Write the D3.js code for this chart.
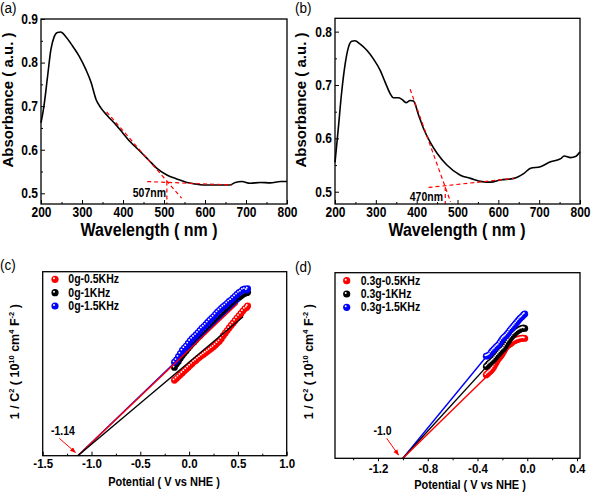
<!DOCTYPE html>
<html><head><meta charset="utf-8">
<script src="https://cdn.jsdelivr.net/npm/d3@7/dist/d3.min.js"></script>
<style>body{margin:0;background:#fff} svg{display:block} text{font-family:"Liberation Sans",Arial,sans-serif}</style>
</head><body>
<svg id="chart" width="591" height="492"></svg>
<script>
// ---------------- DATA ----------------
// (a) UV-vis absorbance, 0g
const waveA = [200,207,216,224,232,240,248,260,277,293,309,322,334,346,362,383,392,417,442,462,482,507,531,556,572,596,629,661,674,690,710,735,759,784,800];
const absA  = [0.662,0.699,0.768,0.829,0.859,0.869,0.870,0.860,0.838,0.815,0.785,0.755,0.716,0.696,0.678,0.657,0.647,0.619,0.596,0.577,0.558,0.542,0.533,0.525,0.522,0.519,0.519,0.519,0.525,0.527,0.523,0.525,0.524,0.527,0.527];
const tangentA = [[360,0.687],[543,0.489]];
const baseA = [[459,0.527],[666,0.519]];
const edgeA = 507;
// (b) UV-vis absorbance, 0.3g
const waveB = [200,208,216,225,233,241,249,261,278,294,311,323,335,343,355,364,374,384,392,405,417,433,450,474,507,532,560,581,605,638,662,679,703,728,753,761,777,789,800];
const absB  = [0.555,0.618,0.684,0.740,0.771,0.782,0.783,0.777,0.765,0.749,0.727,0.705,0.684,0.676,0.676,0.673,0.667,0.671,0.670,0.643,0.618,0.593,0.572,0.550,0.531,0.525,0.519,0.518,0.522,0.525,0.534,0.544,0.547,0.556,0.562,0.567,0.564,0.566,0.575];
const tangentB = [[384,0.692],[483,0.481]];
const baseB = [[429,0.508],[638,0.525]];
const edgeB = 470;
const xTicksAB = [200,300,400,500,600,700,800];
const xMinorAB = [250,350,450,550,650,750];
const yTicksA = [0.5,0.6,0.7,0.8,0.9];
const yMinorA = [0.55,0.65,0.75,0.85];
const yTicksB = [0.5,0.6,0.7,0.8];
const yMinorB = [0.55,0.65,0.75];

// (c) Mott-Schottky, 0g
const labelsC = ["0g-0.5KHz","0g-1KHz","0g-1.5KHz"];
const potC = [-0.15,-0.13,-0.11,-0.09,-0.07,-0.05,-0.03,-0.01,0.01,0.03,0.05,0.07,0.09,0.11,0.13,0.15,0.17,0.19,0.21,0.23,0.25,0.27,0.29,0.31,0.33,0.35,0.37,0.39,0.41,0.43,0.45,0.47,0.49,0.51,0.53,0.55,0.57,0.59,0.60];
const c05 = [4.10,4.20,4.30,4.40,4.50,4.60,4.70,4.80,4.90,5.00,5.10,5.18,5.28,5.36,5.44,5.52,5.60,5.68,5.76,5.84,5.92,6.02,6.12,6.22,6.36,6.52,6.66,6.80,6.94,7.08,7.20,7.34,7.48,7.60,7.72,7.86,7.98,8.06,8.14];
const c10 = [4.80,4.98,5.12,5.30,5.44,5.58,5.70,5.84,5.96,6.08,6.18,6.30,6.42,6.52,6.64,6.74,6.84,6.96,7.06,7.18,7.28,7.40,7.50,7.62,7.72,7.82,7.92,8.02,8.12,8.22,8.32,8.42,8.52,8.60,8.68,8.76,8.82,8.86,8.88];
const c15 = [5.08,5.20,5.38,5.55,5.72,5.85,5.96,6.10,6.24,6.36,6.46,6.56,6.68,6.80,6.92,7.02,7.12,7.24,7.36,7.46,7.56,7.68,7.80,7.90,8.00,8.10,8.18,8.28,8.38,8.46,8.56,8.66,8.76,8.86,8.92,9.02,9.06,9.00,9.08];
const interceptC = -1.14;
const fitEndC = [[0.519,8.46],[0.501,8.28],[0.553,7.55]]; // blue, red, black fit line ends
const xTicksC = [-1.5,-1.0,-0.5,0.0,0.5,1.0];
const xMinorC = [-1.25,-0.75,-0.25,0.25,0.75];

// (d) Mott-Schottky, 0.3g
const labelsD = ["0.3g-0.5KHz","0.3g-1KHz","0.3g-1.5KHz"];
const potD = [-0.33,-0.32,-0.31,-0.30,-0.29,-0.28,-0.27,-0.26,-0.25,-0.24,-0.23,-0.22,-0.21,-0.20,-0.19,-0.18,-0.17,-0.16,-0.15,-0.14,-0.13,-0.12,-0.11,-0.10,-0.09,-0.08,-0.07,-0.06,-0.05,-0.04,-0.03,-0.02];
const d05 = [4.49,4.56,4.62,4.68,4.74,4.82,4.92,5.04,5.16,5.28,5.38,5.46,5.54,5.64,5.76,5.88,5.98,6.06,6.12,6.16,6.20,6.26,6.30,6.34,6.38,6.40,6.42,6.44,6.46,6.47,6.48,6.46];
const d10 = [4.94,5.00,5.08,5.14,5.20,5.26,5.32,5.40,5.48,5.56,5.64,5.72,5.80,5.86,5.92,6.02,6.12,6.24,6.34,6.44,6.52,6.60,6.68,6.74,6.80,6.86,6.90,6.94,6.98,7.00,7.02,7.00];
const d15 = [5.50,5.52,5.55,5.60,5.70,5.78,5.86,5.92,6.00,6.06,6.12,6.22,6.32,6.42,6.50,6.56,6.62,6.70,6.78,6.88,6.96,7.04,7.12,7.20,7.28,7.36,7.44,7.52,7.58,7.64,7.72,7.78];
const interceptD = -1.0;
const fitEndD = [[-0.34,5.39],[-0.327,4.94],[-0.314,4.49]]; // blue, black, red
const xTicksD = [-1.2,-0.8,-0.4,0.0,0.4];
const xMinorD = [-1.4,-1.0,-0.6,-0.2,0.2];

// ---------------- DRAW ----------------
const K = 1.15; // vertical text stretch of the reference image
const svg = d3.select('#chart');
const defs = svg.append('defs');
defs.append('marker').attr('id','arr').attr('viewBox','0 0 10 10').attr('refX',9).attr('refY',5)
  .attr('markerWidth',6).attr('markerHeight',6).attr('orient','auto')
  .append('path').attr('d','M0,1 L10,5 L0,9 Z').attr('fill','#f00');

function styleAxis(g, size, k){
  g.select('.domain').remove();
  g.selectAll('.tick line').attr('stroke','#000').attr('stroke-width',1);
  g.selectAll('.tick text').attr('fill','#000').attr('font-size',size).attr('font-weight','bold')
    .attr('font-family','"Liberation Sans", Arial, sans-serif').attr('transform',`scale(1,${k||K})`);
}
function frame(x0,y0,x1,y1){
  svg.append('rect').attr('x',x0).attr('y',y0).attr('width',x1-x0).attr('height',y1-y0)
    .attr('fill','none').attr('stroke','#000').attr('stroke-width',1.3);
}
function text(x,y,s,opt={}){
  const t = svg.append('text').attr('x',0).attr('y',0).text(s)
    .attr('font-size',opt.size||12).attr('font-weight',opt.weight||'bold')
    .attr('text-anchor',opt.anchor||'middle').attr('fill',opt.fill||'#000');
  if(opt.rot) t.attr('transform',`translate(${x},${y}) rotate(-90)`);
  else t.attr('transform',`translate(${x},${y}) scale(1,${opt.k||K})`);
  return t;
}
function balls(x,y,xs,ys,color){
  const g = svg.append('g');
  const pts = xs.map((v,i)=>[v,ys[i]]);
  g.selectAll('circle.b').data(pts).enter().append('circle').attr('class','b')
    .attr('cx',d=>x(d[0])).attr('cy',d=>y(d[1])).attr('r',3.4).attr('fill',color);
  g.selectAll('circle.h').data(pts).enter().append('circle').attr('class','h')
    .attr('cx',d=>x(d[0])-0.9).attr('cy',d=>y(d[1])-0.9).attr('r',0.9).attr('fill','#fff');
}
function legendBall(cx,cy,color){
  svg.append('circle').attr('cx',cx).attr('cy',cy).attr('r',3.6).attr('fill',color);
  svg.append('circle').attr('cx',cx-1).attr('cy',cy-1).attr('r',1).attr('fill','#fff');
}
function dashed(x,y,pts){
  svg.append('path').attr('d',d3.line().x(d=>x(d[0])).y(d=>y(d[1]))(pts))
    .attr('fill','none').attr('stroke','#f00').attr('stroke-width',1.2).attr('stroke-dasharray','4,3');
}

// ---- Panel (a) ----
{
  const x = d3.scaleLinear().domain([200,800]).range([41,287]);
  const y = d3.scaleLinear().domain([0.4755,0.9]).range([204,19]);
  styleAxis(svg.append('g').attr('transform','translate(0,204)').call(d3.axisBottom(x).tickValues(xTicksAB).tickSize(-4).tickPadding(2.5).tickFormat(d3.format('d'))),12);
  styleAxis(svg.append('g').attr('transform','translate(0,204)').call(d3.axisBottom(x).tickValues(xMinorAB).tickSize(-2).tickFormat('')),12);
  styleAxis(svg.append('g').attr('transform','translate(41,0)').call(d3.axisLeft(y).tickValues(yTicksA).tickSize(-4).tickPadding(3).tickFormat(d3.format('.1f'))),12);
  styleAxis(svg.append('g').attr('transform','translate(41,0)').call(d3.axisLeft(y).tickValues(yMinorA).tickSize(-2).tickFormat('')),12);
  svg.append('path').attr('d',d3.line().x((d,i)=>x(waveA[i])).y(d=>y(d)).curve(d3.curveMonotoneX)(absA))
    .attr('fill','none').attr('stroke','#000').attr('stroke-width',1.6);
  dashed(x,y,tangentA); dashed(x,y,baseA);
  dashed(x,y,[[edgeA,0.527],[edgeA,0.4755]]);
  frame(41,19,287,204);
  text(166,197,'507nm',{size:10.5,anchor:'end'});
  text(149,236,'Wavelength ( nm )',{size:16,k:1.1});
  text(13,100,'Absorbance ( a.u. )',{size:15,rot:true});
  text(0,13,'(a)',{size:13.5,weight:'normal',anchor:'start',k:1.05});
}
// ---- Panel (b) ----
{
  const x = d3.scaleLinear().domain([200,800]).range([335,580]);
  const y = d3.scaleLinear().domain([0.477,0.825]).range([204,18.3]);
  styleAxis(svg.append('g').attr('transform','translate(0,204)').call(d3.axisBottom(x).tickValues(xTicksAB).tickSize(-4).tickPadding(2.5).tickFormat(d3.format('d'))),12);
  styleAxis(svg.append('g').attr('transform','translate(0,204)').call(d3.axisBottom(x).tickValues(xMinorAB).tickSize(-2).tickFormat('')),12);
  styleAxis(svg.append('g').attr('transform','translate(335,0)').call(d3.axisLeft(y).tickValues(yTicksB).tickSize(-4).tickPadding(3).tickFormat(d3.format('.1f'))),12);
  styleAxis(svg.append('g').attr('transform','translate(335,0)').call(d3.axisLeft(y).tickValues(yMinorB).tickSize(-2).tickFormat('')),12);
  svg.append('path').attr('d',d3.line().x((d,i)=>x(waveB[i])).y(d=>y(d)).curve(d3.curveMonotoneX)(absB))
    .attr('fill','none').attr('stroke','#000').attr('stroke-width',1.6);
  dashed(x,y,tangentB); dashed(x,y,baseB);
  dashed(x,y,[[edgeB,0.509],[edgeB,0.477]]);
  frame(335,18.3,580,204);
  text(443,201,'470nm',{size:10.5,anchor:'end'});
  text(457,236,'Wavelength ( nm )',{size:16,k:1.1});
  text(306,100,'Absorbance ( a.u. )',{size:15,rot:true});
  text(295,13,'(b)',{size:13.5,weight:'normal',anchor:'start',k:1.05});
}
function yLabelMS(x,y){
  const t = svg.append('text').attr('transform',`translate(${x},${y}) rotate(-90)`)
    .attr('text-anchor','middle').attr('font-size',12.5).attr('font-weight','bold');
  const parts = [['1 / C',0],['2',1],[' ( 10',0],['10',1],[' cm',0],['4',1],[' F',0],['-2',1],[' )',0]];
  let prev = 0;
  parts.forEach(([s,sup])=>{
    const ts = t.append('tspan').text(s);
    const dy = sup ? -5 : (prev ? 5 : 0);
    if(dy) ts.attr('dy',dy);
    if(sup) ts.attr('font-size',7.5);
    prev = sup;
  });
}
// ---- Panel (c) ----
{
  const x = d3.scaleLinear().domain([-1.5,1.0]).range([42.7,286.7]);
  const y = d3.scaleLinear().domain([0,10]).range([455.7,271.7]);
  styleAxis(svg.append('g').attr('transform','translate(0,455.7)').call(d3.axisBottom(x).tickValues(xTicksC).tickSize(-4).tickPadding(3).tickFormat(d=>d3.format('.1f')(d).replace('−','-'))),11.5,1.1);
  styleAxis(svg.append('g').attr('transform','translate(0,455.7)').call(d3.axisBottom(x).tickValues(xMinorC).tickSize(-2).tickFormat('')),11.5);
  balls(x,y,potC,c05,'#ff0000');
  balls(x,y,potC,c10,'#000000');
  balls(x,y,potC,c15,'#0000ff');
  const cols = ['#0000ff','#ff0000','#000000'];
  fitEndC.forEach((e,i)=>{
    svg.append('path').attr('d',d3.line().x(d=>x(d[0])).y(d=>y(d[1]))([[interceptC,0],e]))
      .attr('stroke',cols[i]).attr('stroke-width',1.4).attr('fill','none');
  });
  frame(42.7,271.7,286.7,455.7);
  const lc = ['#ff0000','#000000','#0000ff'];
  labelsC.forEach((s,i)=>{
    legendBall(55,279.3+i*13.35,lc[i]);
    text(68.3,279.3+i*13.35+4,s,{size:10.5,anchor:'start'});
  });
  text(63,435,'-1.14',{size:10.5});
  svg.append('line').attr('x1',59.3).attr('y1',438.3).attr('x2',75.5).attr('y2',452.5)
    .attr('stroke','#f00').attr('stroke-width',1).attr('marker-end','url(#arr)');
  text(164,485.5,'Potential ( V vs NHE )',{size:11,k:1.1});
  yLabelMS(19,361.7);
  text(0,270,'(c)',{size:13.5,weight:'normal',anchor:'start',k:1.05});
}
// ---- Panel (d) ----
{
  const x = d3.scaleLinear().domain([-1.546,0.424]).range([335,580]);
  const y = d3.scaleLinear().domain([0,10]).range([458.3,272.7]);
  styleAxis(svg.append('g').attr('transform','translate(0,458.3)').call(d3.axisBottom(x).tickValues(xTicksD).tickSize(3).tickPadding(2.5).tickFormat(d=>d3.format('.1f')(d).replace('−','-'))),11.5,1.1);
  styleAxis(svg.append('g').attr('transform','translate(0,458.3)').call(d3.axisBottom(x).tickValues(xMinorD).tickSize(2).tickFormat('')),11.5);
  balls(x,y,potD,d05,'#ff0000');
  balls(x,y,potD,d10,'#000000');
  balls(x,y,potD,d15,'#0000ff');
  const cols = ['#0000ff','#000000','#ff0000'];
  fitEndD.forEach((e,i)=>{
    svg.append('path').attr('d',d3.line().x(d=>x(d[0])).y(d=>y(d[1]))([[interceptD,0],e]))
      .attr('stroke',cols[i]).attr('stroke-width',1.4).attr('fill','none');
  });
  frame(335,272.7,580,458.3);
  const lc = ['#ff0000','#000000','#0000ff'];
  labelsD.forEach((s,i)=>{
    legendBall(346.7,280.7+i*13.3,lc[i]);
    text(360.7,280.7+i*13.3+4,s,{size:10.5,anchor:'start'});
  });
  text(382.5,435,'-1.0',{size:10.5});
  svg.append('line').attr('x1',386.7).attr('y1',438.3).attr('x2',398.5).attr('y2',455)
    .attr('stroke','#f00').attr('stroke-width',1).attr('marker-end','url(#arr)');
  text(470,488.5,'Potential ( V vs NHE )',{size:11,k:1.1});
  yLabelMS(313,361.7);
  text(295,272,'(d)',{size:13.5,weight:'normal',anchor:'start',k:1.05});
}
</script>
</body></html>
